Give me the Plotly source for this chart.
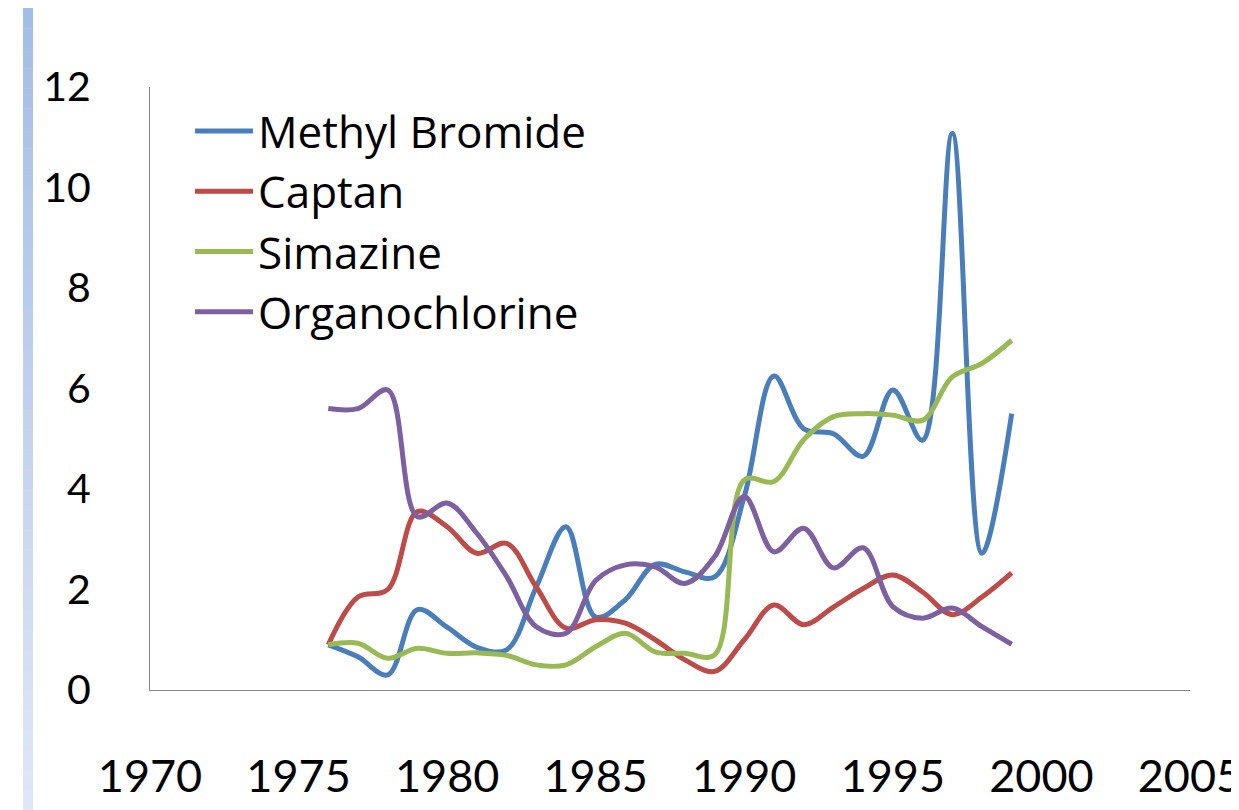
import plotly.graph_objects as go

years = list(range(1976, 2000))
methyl_bromide = [0.9, 0.66, 0.3, 1.6, 1.25, 0.85, 0.8, 2.05, 3.25, 1.45, 1.8, 2.5, 2.35, 2.25,
                  3.85, 6.25, 5.2, 5.1, 4.65, 5.97, 4.97, 11.08, 2.72, 5.5]
captan = [0.9, 1.85, 2.0, 3.55, 3.25, 2.72, 2.92, 2.05, 1.23, 1.4, 1.33, 1.0, 0.6, 0.37,
          1.0, 1.69, 1.3, 1.65, 2.02, 2.29, 1.95, 1.5, 1.85, 2.33]
simazine = [0.9, 0.93, 0.63, 0.83, 0.73, 0.74, 0.69, 0.5, 0.5, 0.86, 1.13, 0.76, 0.73, 0.7,
            4.18, 4.15, 4.98, 5.44, 5.5, 5.47, 5.37, 6.23, 6.5, 6.96]
organochlorine = [5.6, 5.6, 5.97, 3.45, 3.72, 3.12, 2.26, 1.26, 1.13, 2.18, 2.49, 2.45, 2.12, 2.65,
                  3.85, 2.75, 3.22, 2.43, 2.83, 1.66, 1.43, 1.63, 1.26, 0.91]
x_ticks = [1970, 1975, 1980, 1985, 1990, 1995, 2000, 2005]

series = [
    ("Methyl Bromide", methyl_bromide, "#4a7ebb"),
    ("Captan", captan, "#be4b48"),
    ("Simazine", simazine, "#98b954"),
    ("Organochlorine", organochlorine, "#7d60a0"),
]

FONT = "Lato, 'Open Sans', sans-serif"
LEG_FONT = "'Open Sans', Lato, sans-serif"

fig = go.Figure()
for name, vals, color in series:
    fig.add_trace(go.Scatter(
        x=years, y=vals, name=name, mode="lines",
        line=dict(color=color, width=5, shape="spline", smoothing=1.0),
    ))

# The page body has an 8px default margin, so the figure is drawn at (8, 8).
OFF = 8
W, H = 1239 - OFF, 810 - OFF
L, R, T, B = 150 - OFF, 49, 87 - OFF, 120
pw, ph = W - L - R, H - T - B


def px2paper_x(px):
    return (px - OFF - L) / pw


def px2paper_y(py):
    return (H - B - (py - OFF)) / ph


# decorative left gradient bar
shapes = []
n = 40
top = (164, 189, 230)
bot = (224, 231, 244)
for i in range(n):
    y0 = OFF + i * H / n
    y1 = OFF + (i + 1) * H / n
    t = i / (n - 1)
    c = tuple(int(round(top[k] + (bot[k] - top[k]) * t)) for k in range(3))
    shapes.append(dict(
        type="rect", xref="paper", yref="paper",
        x0=px2paper_x(23), x1=px2paper_x(33),
        y0=px2paper_y(y1 + 0.5), y1=px2paper_y(y0),
        fillcolor="rgb(%d,%d,%d)" % c, line=dict(width=0), layer="below",
    ))

fig.update_layout(
    width=W, height=H,
    margin=dict(l=L, r=R, t=T, b=B, pad=0, autoexpand=False),
    paper_bgcolor="white", plot_bgcolor="white",
    font=dict(family=FONT, color="black"),
    shapes=shapes,
    showlegend=True,
    legend=dict(
        x=px2paper_x(190), y=px2paper_y(96), xanchor="left", yanchor="top",
        bgcolor="rgba(0,0,0,0)", font=dict(size=44, family=LEG_FONT),
        itemwidth=58, tracegroupgap=0,
    ),
    xaxis=dict(
        range=[1970, 2005.001], tickmode="array", tickvals=x_ticks,
        ticktext=[str(v) for v in x_ticks],
        showgrid=False, zeroline=False, showline=True, linecolor="#868686", linewidth=1,
        ticks="", tickfont=dict(size=45, family=FONT), ticklabelstandoff=47,
        ticklabeloverflow="allow", automargin=False,
    ),
    yaxis=dict(
        range=[0, 12], tickmode="linear", tick0=0, dtick=2,
        showgrid=False, zeroline=False, showline=True, linecolor="#868686", linewidth=1,
        ticks="", tickfont=dict(size=41, family=FONT), ticklabelstandoff=50,
        automargin=False,
    ),
)

fig.write_html("out.html")
